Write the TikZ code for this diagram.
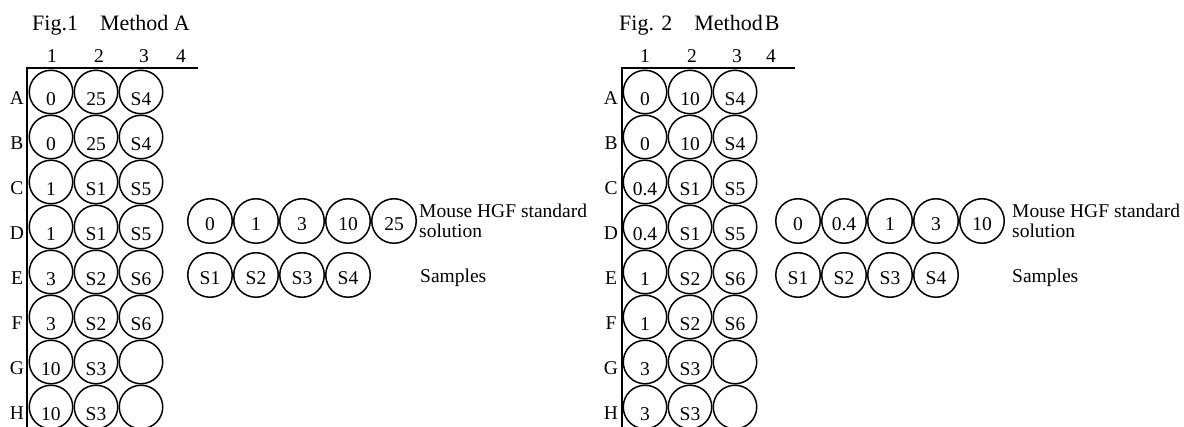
\documentclass[tikz,border=0pt]{standalone}
\usepackage{fontspec}
\setmainfont{Liberation Serif}
\begin{document}
\begin{tikzpicture}[x=1pt,y=-1pt,
  txt/.style={inner sep=0pt,font=\fontsize{19.5}{20}\selectfont},
  title/.style={inner sep=0pt,anchor=base west,font=\fontsize{22}{24}\selectfont},
  well/.style={circle,draw,line width=1.5pt,minimum size=43.5pt,inner sep=0pt,
    text height=27pt,text depth=0pt,font=\fontsize{19.5}{20}\selectfont},
  tube/.style={well,minimum size=44.5pt,text height=19pt},
  axis/.style={line width=2pt}]
\useasboundingbox (0,0) rectangle (1184,427);

% ---------- Fig. 1: Method A ----------
\node[title] (a-title) at (32,31) {Fig.1\hspace{22pt}Method A};
\foreach \n/\x in {1/52,2/99,3/144,4/181}
  \node[txt,anchor=base] (a-col\n) at (\x,62.5) {\n};
\coordinate (a-top) at (198,68);
\coordinate (a-corner) at (27,68);
\coordinate (a-bottom) at (27,427);
\draw[axis] (a-top) -- (a-corner) -- (a-bottom);
\foreach \row/\p/\q/\s [count=\i from 0] in
  {A/0/25/S4, B/0/25/S4, C/1/S1/S5, D/1/S1/S5,
   E/3/S2/S6, F/3/S2/S6, G/10/S3/, H/10/S3/} {
  \pgfmathsetmacro\yy{92+45*\i}
  \node[txt,anchor=base] (a-lab\row) at (17,\yy+13) {\row};
  \node[well] (a-\row1) at (51,\yy) {\p};
  \node[well] (a-\row2) at (96,\yy) {\q};
  \node[well] (a-\row3) at (141,\yy) {\s};
}
\foreach \t/\x [count=\k] in {0/210,1/256,3/302,10/348,25/394}
  \node[tube] (a-std\k) at (\x,221) {\t};
\foreach \t/\x [count=\k] in {S1/210,S2/256,S3/302,S4/348}
  \node[tube] (a-smp\k) at (\x,275) {\t};
\node[txt,anchor=base west] (a-std-text) at (419,218) {Mouse HGF standard};
\node[txt,anchor=base west] (a-std-text2) at (419,238) {solution};
\node[txt,anchor=base west] (a-smp-text) at (420,283) {Samples};

% ---------- Fig. 2: Method B ----------
\node[title] (b-title) at (619,31) {Fig. 2\hspace{22pt}Method\hspace{2pt}B};
\foreach \n/\x in {1/645,2/692,3/737,4/771}
  \node[txt,anchor=base] (b-col\n) at (\x,62.5) {\n};
\coordinate (b-top) at (795,68);
\coordinate (b-corner) at (622,68);
\coordinate (b-bottom) at (622,427);
\draw[axis] (b-top) -- (b-corner) -- (b-bottom);
\foreach \row/\p/\q/\s [count=\i from 0] in
  {A/0/10/S4, B/0/10/S4, C/0.4/S1/S5, D/0.4/S1/S5,
   E/1/S2/S6, F/1/S2/S6, G/3/S3/, H/3/S3/} {
  \pgfmathsetmacro\yy{92+45*\i}
  \node[txt,anchor=base] (b-lab\row) at (611,\yy+13) {\row};
  \node[well] (b-\row1) at (645,\yy) {\p};
  \node[well] (b-\row2) at (690,\yy) {\q};
  \node[well] (b-\row3) at (735,\yy) {\s};
}
\foreach \t/\x [count=\k] in {0/798,0.4/844,1/890,3/936,10/982}
  \node[tube] (b-std\k) at (\x,221) {\t};
\foreach \t/\x [count=\k] in {S1/798,S2/844,S3/890,S4/936}
  \node[tube] (b-smp\k) at (\x,275) {\t};
\node[txt,anchor=base west] (b-std-text) at (1012,218) {Mouse HGF standard};
\node[txt,anchor=base west] (b-std-text2) at (1012,238) {solution};
\node[txt,anchor=base west] (b-smp-text) at (1012,283) {Samples};
\end{tikzpicture}
\end{document}
